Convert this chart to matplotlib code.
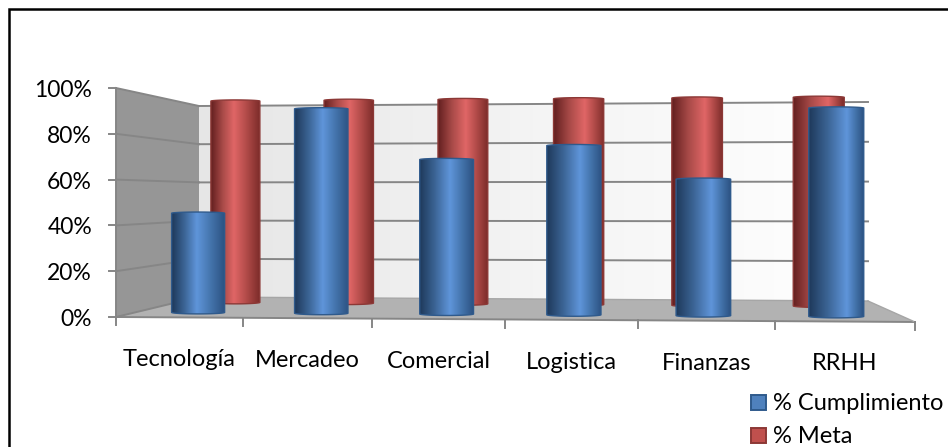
import numpy as np
import matplotlib
matplotlib.use('Agg')
import matplotlib.pyplot as plt
from matplotlib.colors import LinearSegmentedColormap
from matplotlib.patches import Polygon, Rectangle

categories = ['Tecnología', 'Mercadeo', 'Comercial', 'Logistica', 'Finanzas', 'RRHH']
cumplimiento = [45, 92, 69, 75, 60, 91]
meta = [100, 100, 100, 100, 100, 100]
y_ticks = [0, 20, 40, 60, 80, 100]
y_tick_labels = ['0%', '20%', '40%', '60%', '80%', '100%']

plt.rcParams['font.family'] = ['Lato', 'DejaVu Sans']

# corners of the 3D box in figure pixels
front_x = [116, 243, 372, 505, 638, 775, 915]
back_x = [199, 309, 416, 526, 636, 752, 868]
front_bottom = (317, 322)
front_top = (88, 82)
back_bottom = (297, 301)
back_top = (106, 102)
cat_label_y = [366, 367, 368, 369, 370, 370]


def project(u, depth, value):
    # u is the category position (0-6), depth goes from 0 (front) to 1 (back)
    t = u / len(categories)
    fx = np.interp(u, range(len(front_x)), front_x)
    bx = np.interp(u, range(len(back_x)), back_x)
    x = fx + (bx - fx) * depth
    y0 = front_bottom[0] + (front_bottom[1] - front_bottom[0]) * t
    y1 = front_top[0] + (front_top[1] - front_top[0]) * t
    y2 = back_bottom[0] + (back_bottom[1] - back_bottom[0]) * t
    y3 = back_top[0] + (back_top[1] - back_top[0]) * t
    bottom = y0 + (y2 - y0) * depth
    top = y1 + (y3 - y1) * depth
    return x, bottom + (top - bottom) * value / 100


def draw_cylinder(ax, u, depth, value, half_width, colors, edge, zorder):
    cx, base_y = project(u + 0.5, depth, 0)
    _, top_y = project(u + 0.5, depth, value)
    left, right = cx - half_width, cx + half_width
    theta = np.linspace(0, np.pi, 40)
    top_xs = cx - half_width * np.cos(theta)
    top_ys = top_y - 1.2 * np.sin(theta)
    base_xs = cx + half_width * np.cos(theta)
    base_ys = base_y + 1.5 * np.sin(theta)
    pts = np.column_stack([np.r_[top_xs, base_xs], np.r_[top_ys, base_ys]])
    outline = Polygon(pts, closed=True, facecolor='none', edgecolor=edge, lw=1.0, zorder=zorder + 0.001)
    ax.add_patch(outline)

    # the highlight drifts to the right along the chart
    light = 0.47 + 0.22 * (u / 5)
    s = np.linspace(0, 1, 120)
    pos = np.where(s < light, s / light * 0.5, 0.5 + (s - light) / (1 - light) * 0.5)
    cmap = LinearSegmentedColormap.from_list('cyl', colors)
    img = ax.imshow(pos[np.newaxis, :], cmap=cmap, vmin=0, vmax=1, aspect='auto',
                    extent=(left, right, base_y + 3, top_y - 2), zorder=zorder, interpolation='bilinear')
    img.set_clip_path(Polygon(pts, closed=True, transform=ax.transData))


fig = plt.figure(figsize=(9.48, 4.47), dpi=100)
ax = fig.add_axes([0, 0, 1, 1])

# back wall with a light gradient
bl = project(0, 1, 0)
br = project(6, 1, 0)
tl = project(0, 1, 100)
tr = project(6, 1, 100)
wall_cmap = LinearSegmentedColormap.from_list('wall', ['#e6e6e6', '#f4f4f4', '#ffffff'])
wall = ax.imshow(np.linspace(0, 1, 200)[np.newaxis, :], cmap=wall_cmap, aspect='auto',
                 extent=(bl[0], br[0], br[1] + 3, tr[1] - 3), zorder=1)
wall.set_clip_path(Polygon([bl, br, tr, tl], closed=True, transform=ax.transData))

# left wall and floor
fl = project(0, 0, 0)
ftop = project(0, 0, 100)
fr = project(6, 0, 0)
ax.add_patch(Polygon([fl, bl, tl, ftop], closed=True, facecolor='#969696', edgecolor='none', zorder=2))
ax.add_patch(Polygon([fl, fr, br, bl], closed=True, facecolor='#b2b2b2', edgecolor='none', zorder=2))

# gridlines on both walls
grid_color = '#868686'
for v in y_ticks:
    a = project(0, 0, v)
    b = project(0, 1, v)
    c = project(6, 1, v)
    ax.plot([a[0], b[0]], [a[1], b[1]], color=grid_color, lw=1.4, zorder=3)
    if v > 0:
        ax.plot([b[0], c[0]], [b[1], c[1]], color=grid_color, lw=1.4, zorder=3)
    else:
        ax.plot([b[0], c[0]], [b[1], c[1]], color='#a6a6a6', lw=1.0, zorder=3)

# axes lines and ticks
ax.plot([ftop[0], fl[0]], [ftop[1], fl[1]], color=grid_color, lw=1.4, zorder=4)
ax.plot([fl[0], fr[0]], [fl[1], fr[1]], color=grid_color, lw=1.4, zorder=4)
ax.plot([br[0], fr[0]], [br[1], fr[1]], color='#a6a6a6', lw=1.0, zorder=4)
for v, label in zip(y_ticks, y_tick_labels):
    x, y = project(0, 0, v)
    ax.plot([x - 7, x], [y, y], color=grid_color, lw=1.4, zorder=4)
    ax.text(92, y + 9, label, ha='right', va='baseline', fontsize=16.5, color='black')
for i in range(len(categories) + 1):
    x, y = project(i, 0, 0)
    ax.plot([x, x], [y, y + 8], color=grid_color, lw=1.4, zorder=4)

# cylinders, back row first
red_colors = ['#642020', '#a84a48', '#e06666', '#b04a48', '#7c2c2a']
blue_colors = ['#1f3a5c', '#3c6596', '#5f95da', '#4474ac', '#2c5282']
for i, value in enumerate(meta):
    draw_cylinder(ax, i, 0.75, value, 24.5 + i * 0.2, red_colors, '#8c3836', 5 + i * 0.01)
for i, value in enumerate(cumplimiento):
    draw_cylinder(ax, i, 0.25, value, 26.5 + i * 0.2, blue_colors, '#2f5a8c', 6 + i * 0.01)

# category labels
for i, name in enumerate(categories):
    x, y = project(i + 0.5, 0, 0)
    ax.text(x, cat_label_y[i], name, ha='center', va='baseline', fontsize=17, color='black')

# legend
ax.add_patch(Rectangle((751, 395), 15, 15, facecolor='#4f81bd', edgecolor='#2f5a8c', lw=1.4, zorder=8))
ax.add_patch(Rectangle((751, 428), 15, 15, facecolor='#c0504d', edgecolor='#8c3836', lw=1.4, zorder=8))
ax.text(773, 410, '% Cumplimiento', ha='left', va='baseline', fontsize=17, color='black')
ax.text(773, 443, '% Meta', ha='left', va='baseline', fontsize=17, color='black')

# chart border, only the top and left edges show
ax.plot([9, 9, 948], [447, 9.3, 9.3], color='black', lw=1.8, zorder=9, solid_joinstyle='miter')

ax.set_xlim(0, 948)
ax.set_ylim(447, 0)
ax.axis('off')
fig.savefig('out.png', dpi=100)
